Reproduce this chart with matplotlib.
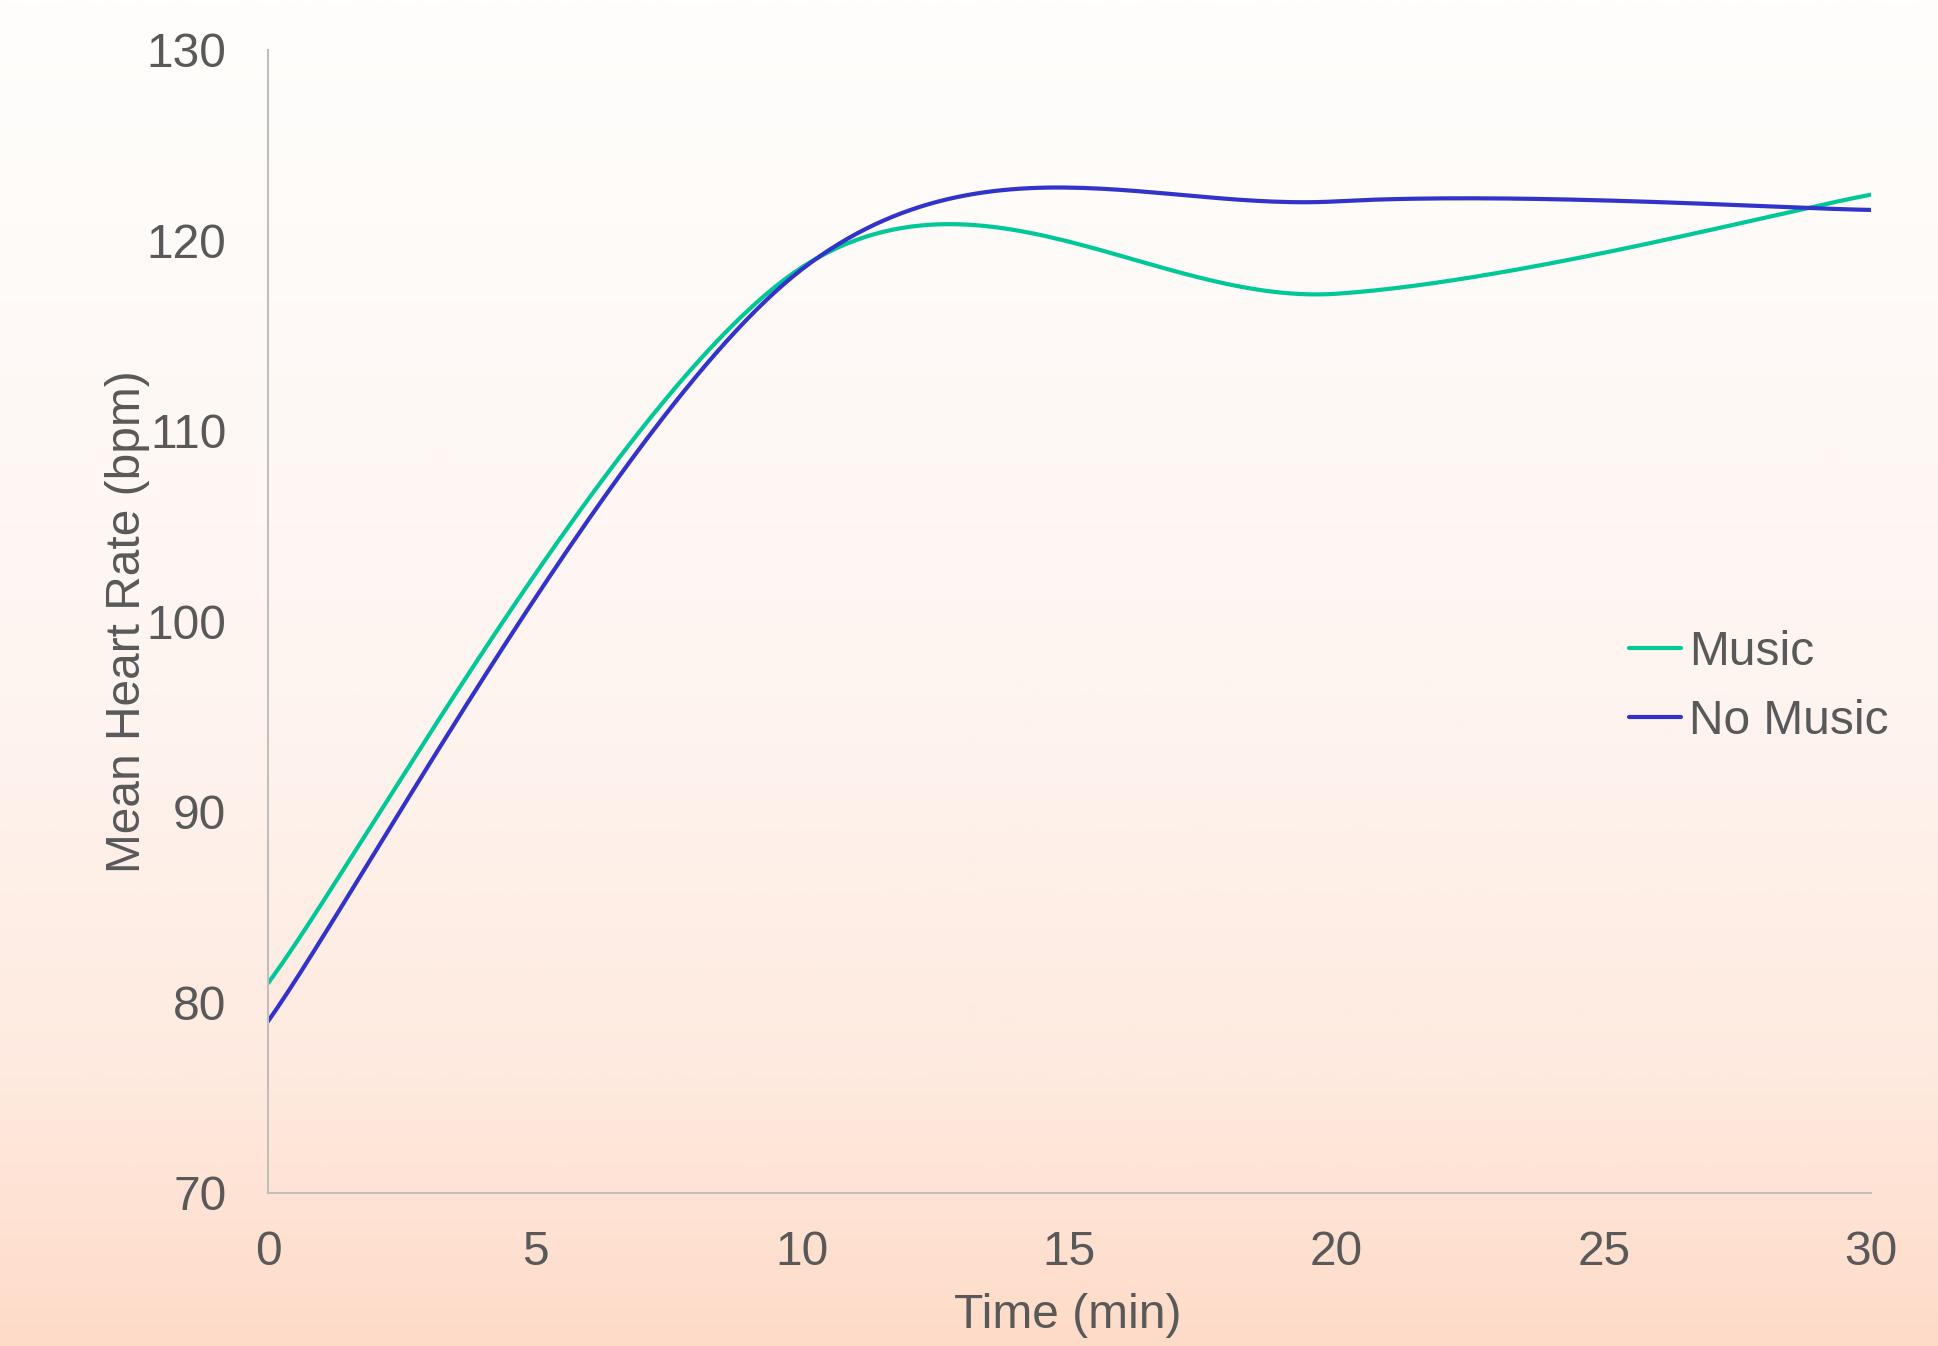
import numpy as np
import matplotlib
matplotlib.use('Agg')
import matplotlib.pyplot as plt
from matplotlib.colors import LinearSegmentedColormap

# Data (Excel smoothed lines through these points)
time_min = [0, 10, 20, 30]
music = [81.0, 118.6, 117.2, 122.4]
no_music = [79.0, 118.5, 122.05, 121.6]
series_names = ['Music', 'No Music']
series_colors = ['#00C897', '#3333CC']
y_ticks = [70, 80, 90, 100, 110, 120, 130]
x_ticks = [0, 5, 10, 15, 20, 25, 30]

TEXT = '#595959'
AXIS = '#BFBFBF'
FS = 34.5


def excel_smooth(xs, ys, n=60):
    """Bezier smoothing similar to Excel's 'smoothed line'"""
    pts = np.column_stack([xs, ys]).astype(float)
    out = []
    for i in range(len(pts) - 1):
        p0 = pts[max(i - 1, 0)]
        p1 = pts[i]
        p2 = pts[i + 1]
        p3 = pts[min(i + 2, len(pts) - 1)]
        c1 = p1 + (p2 - p0) / 6.0
        c2 = p2 - (p3 - p1) / 6.0
        t = np.linspace(0, 1, n)[:, None]
        seg = ((1 - t) ** 3) * p1 + 3 * ((1 - t) ** 2) * t * c1 \
            + 3 * (1 - t) * t ** 2 * c2 + t ** 3 * p2
        if i > 0:
            seg = seg[1:]
        out.append(seg)
    out = np.vstack(out)
    return out[:, 0], out[:, 1]


plt.rcParams['font.family'] = ['Liberation Sans', 'DejaVu Sans']

fig = plt.figure(figsize=(19.38, 13.46), dpi=100)

# background gradient
bg = fig.add_axes([0, 0, 1, 1], zorder=-10)
cmap = LinearSegmentedColormap.from_list('bg', [
    (0.0, (255/255, 254/255, 252/255)),
    (0.5, (254/255, 245/255, 241/255)),
    (0.8, (254/255, 234/255, 223/255)),
    (1.0, (255/255, 219/255, 200/255)),
])
grad = np.linspace(0, 1, 512)[:, None]
bg.imshow(grad, aspect='auto', cmap=cmap, extent=[0, 1, 0, 1], origin='upper')
bg.axis('off')

ax = fig.add_axes([0.1383, 0.1139, 0.9654 - 0.1383, 0.9629 - 0.1139])
ax.patch.set_alpha(0)

for vals, name, col in zip([music, no_music], series_names, series_colors):
    sx, sy = excel_smooth(time_min, vals)
    ax.plot(sx, sy, color=col, lw=3, label=name, solid_capstyle='round')

ax.set_xlim(0, 30)
ax.set_ylim(70, 130)
ax.set_xticks(x_ticks)
ax.set_yticks(y_ticks)
ax.tick_params(length=0, labelsize=FS, colors=TEXT)
ax.tick_params(axis='y', pad=30)
ax.tick_params(axis='x', pad=27)

for side in ['top', 'right']:
    ax.spines[side].set_visible(False)
for side in ['left', 'bottom']:
    ax.spines[side].set_color(AXIS)
    ax.spines[side].set_linewidth(1.5)

fig.text(127 / 1938, 1 - 622 / 1346, 'Mean Heart Rate (bpm)', rotation=90,
         ha='center', va='center', fontsize=FS, color=TEXT)
fig.text(1068 / 1938, 1 - 1316 / 1346, 'Time (min)',
         ha='center', va='center', fontsize=FS, color=TEXT)

leg = ax.legend(loc='center left', bbox_to_anchor=(1629 / 1938, 1 - 687 / 1346),
                bbox_transform=fig.transFigure, frameon=False, fontsize=FS,
                handlelength=1.09, handletextpad=0.16, labelspacing=0.5,
                borderpad=0, borderaxespad=0)
for t in leg.get_texts():
    t.set_color(TEXT)

fig.savefig('out.png', dpi=100)
